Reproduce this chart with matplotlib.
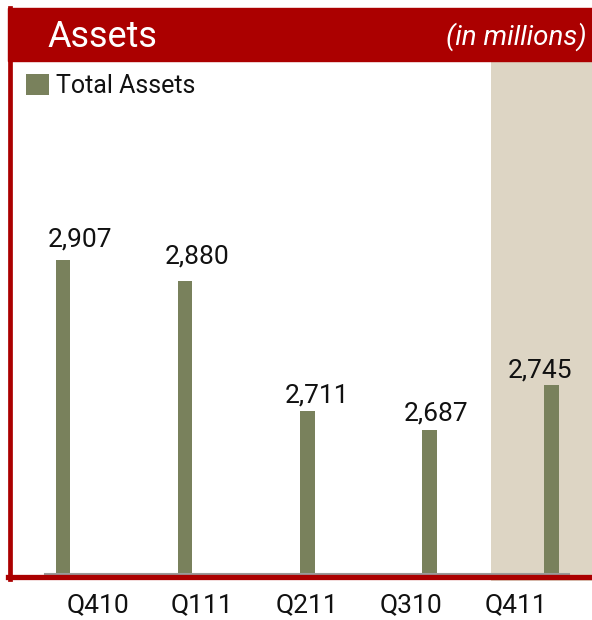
import matplotlib
matplotlib.use("Agg")
import matplotlib.pyplot as plt
from matplotlib.patches import Rectangle
from matplotlib.lines import Line2D

# data
quarters = ["Q410", "Q111", "Q211", "Q310", "Q411"]
total_assets = [2907, 2880, 2711, 2687, 2745]
value_labels = ["2,907", "2,880", "2,711", "2,687", "2,745"]

# manual label nudges (pixels), like the slide had them
label_dx = [17, 12, 10, 7, -12]
label_dy = [14, 17, 9, 9, 8]

red = "#AB0000"
olive = "#79815C"
beige = "#DDD5C4"
ink = "#111111"

plt.rcParams["font.family"] = ["Roboto", "DejaVu Sans"]

W, H = 592, 620
fig = plt.figure(figsize=(W / 100, H / 100), dpi=100)

def fx(px):
    return px / W

def fy(py):
    return (H - py) / H

ax = fig.add_axes([fx(12), fy(574), fx(592) - fx(12), fy(61) - fy(574)])
x = list(range(len(quarters)))
ax.set_xlim(-0.417, 4.33)
ax.set_ylim(2500, 3165)

# highlighted last quarter
ax.axvspan(3.5, 4.33, ymin=-7 / 513, ymax=1, color=beige, lw=0, clip_on=False, zorder=0)

bars = ax.bar(x, total_assets, width=0.12, color=olive, zorder=2, label="Total Assets")
ax.axhline(2500, xmin=33 / 580, xmax=557 / 580, color="#9a9a9a", lw=1.5, zorder=3, clip_on=False)

for i, b in enumerate(bars):
    ax.annotate(value_labels[i], (b.get_x() + b.get_width() / 2, b.get_height()),
                xytext=(label_dx[i], label_dy[i]), textcoords="offset pixels",
                ha="center", va="baseline", fontsize=19, color=ink)

for s in ax.spines.values():
    s.set_visible(False)
ax.set_yticks([])
ax.set_xticks([])

# category labels sit on their own evenly spaced row
ax2 = ax.twiny()
ax2.set_xlim((12 - 97.5) / 104.6, (592 - 97.5) / 104.6)
ax2.xaxis.set_ticks_position("bottom")
ax2.xaxis.set_label_position("bottom")
ax2.set_xticks(x)
ax2.set_xticklabels(quarters, fontsize=19, color=ink)
ax2.tick_params(axis="x", length=0, pad=14)
for s in ax2.spines.values():
    s.set_visible(False)
ax2.set_yticks([])

# frame + header
fig.patches.append(Rectangle((fx(8), fy(61)), 1 - fx(8), fy(8) - fy(61),
                             transform=fig.transFigure, color=red, zorder=5))
fig.lines.append(Line2D([fx(10), fx(10)], [fy(8), fy(579)], transform=fig.transFigure,
                        color=red, lw=3.4, zorder=5))
fig.lines.append(Line2D([fx(8), 1], [fy(576.5), fy(576.5)], transform=fig.transFigure,
                        color=red, lw=3.8, zorder=5))

fig.text(fx(47), fy(47), "Assets", color="white", fontsize=26, va="baseline", zorder=6)
fig.text(fx(587), fy(45), "(in millions)", color="white", fontsize=20, style="italic",
         ha="right", va="baseline", zorder=6)

ax.legend(loc="upper left", bbox_to_anchor=(fx(16), fy(64)), bbox_transform=fig.transFigure,
          frameon=False, fontsize=18, handlelength=0.9, handleheight=0.9,
          handletextpad=0.3, borderaxespad=0, labelcolor=ink)

fig.savefig("out.png", dpi=100)
